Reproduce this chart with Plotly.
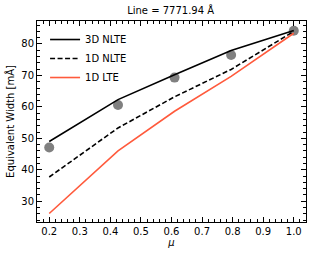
import plotly.graph_objects as go

mu = [0.2, 0.425, 0.61, 0.795, 1.0]
obs = [47.1, 60.6, 69.3, 76.5, 84.2]
nlte3d = [49.0, 62.3, 70.2, 77.9, 84.3]
nlte1d = [37.7, 53.3, 63.2, 71.9, 84.0]
lte1d = [26.1, 46.0, 58.6, 69.7, 83.4]

fig = go.Figure()
fig.add_trace(go.Scatter(x=mu, y=obs, mode="markers", marker=dict(color="#808080", size=10),
                         showlegend=False))
fig.add_trace(go.Scatter(x=mu, y=nlte3d, mode="lines", line=dict(color="black", width=1.6),
                         name="3D NLTE"))
fig.add_trace(go.Scatter(x=mu, y=nlte1d, mode="lines", line=dict(color="black", width=1.6, dash="5px,2.5px"),
                         name="1D NLTE"))
fig.add_trace(go.Scatter(x=mu, y=lte1d, mode="lines", line=dict(color="#ff5a3c", width=1.6),
                         name="1D LTE"))

axis_common = dict(ticks="inside", mirror="allticks", showline=True, linecolor="black", linewidth=1,
                   showgrid=False, zeroline=False, ticklen=5, tickcolor="black", tickwidth=1,
                   automargin=False,
                   tickfont=dict(family="DejaVu Sans", size=10, color="black"))
fig.update_xaxes(range=[0.16, 1.04], tick0=0.2, dtick=0.1, tickformat=".1f",
                 minor=dict(ticks="inside", ticklen=3, dtick=0.02, tick0=0.2, tickcolor="black"),
                 title=dict(text="<i>μ</i>", font=dict(family="DejaVu Sans", size=10, color="black"), standoff=2),
                 **axis_common)
fig.update_yaxes(range=[23.4, 87.3], dtick=10,
                 minor=dict(ticks="inside", ticklen=3, dtick=2, tickcolor="black"),
                 title=dict(text="Equivalent Width [mÅ]", font=dict(family="DejaVu Sans", size=10, color="black"), standoff=4),
                 **axis_common)
fig.update_layout(
    width=316, height=256,
    margin=dict(l=37, r=10, t=21, b=34),
    plot_bgcolor="white", paper_bgcolor="white",
    title=dict(text="Line = 7771.94 Å", x=0.54, xanchor="center", y=0.96, yanchor="middle",
               font=dict(family="DejaVu Sans", size=10, color="black")),
    legend=dict(x=0.03, y=0.98, xanchor="left", yanchor="top", bgcolor="rgba(0,0,0,0)",
                font=dict(family="DejaVu Sans", size=10, color="black"), tracegroupgap=0),
)
fig.write_html("out.html", post_script="document.body.style.margin='0';",
               config={"displayModeBar": False})
